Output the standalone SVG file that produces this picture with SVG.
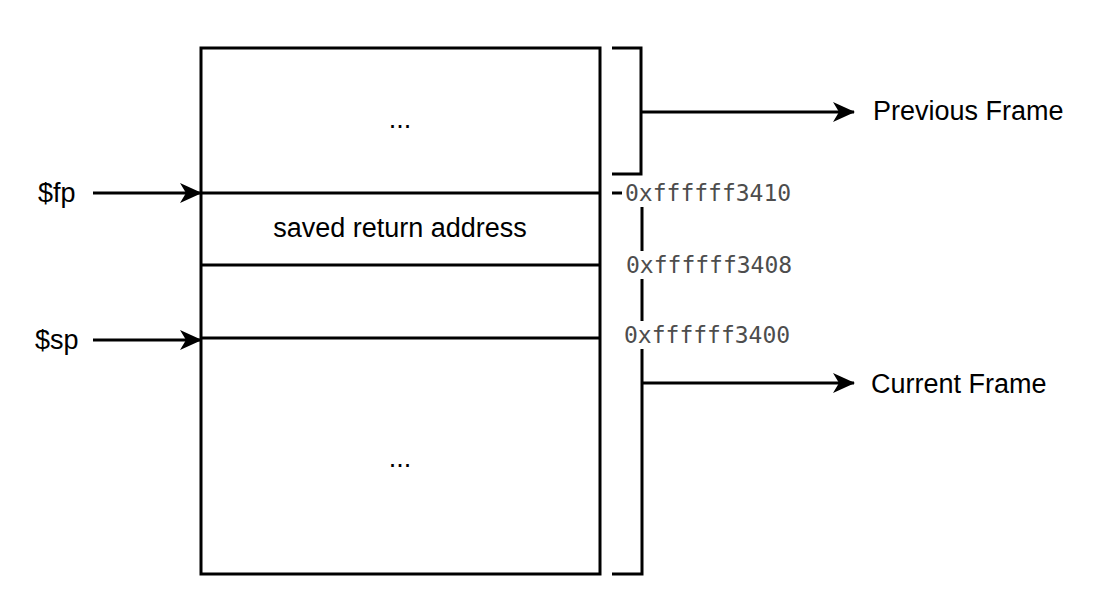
<svg xmlns="http://www.w3.org/2000/svg" width="1094" height="601" viewBox="0 0 1094 601">
<style>
.ln{fill:none;stroke:#000;stroke-width:3}
.t{font-family:"Liberation Sans",Arial,sans-serif;font-size:27px;fill:#000}
.m{font-family:"DejaVu Sans Mono",monospace;font-size:23px;fill:#4d4d4d}
</style>
<defs>
<marker id="ah" viewBox="0 0 22 22" refX="21" refY="11" markerWidth="22" markerHeight="22" markerUnits="userSpaceOnUse" orient="auto">
<path d="M0,1 L22,11 L0,21 L6,11 Z" fill="#000"/>
</marker>
</defs>
<rect width="1094" height="601" fill="#fff"/>
<g id="stack">
<rect class="ln" x="201" y="48" width="399" height="526"/>
<line class="ln" x1="201" y1="193" x2="600" y2="193"/>
<line class="ln" x1="201" y1="265" x2="600" y2="265"/>
<line class="ln" x1="201" y1="338" x2="600" y2="338"/>
<text class="t" x="400" y="128" text-anchor="middle">...</text>
<text class="t" x="400" y="237" text-anchor="middle">saved return address</text>
<text class="t" x="400" y="467" text-anchor="middle">...</text>
</g>
<g id="prev-bracket">
<path class="ln" d="M612,48 H641 V174 H612"/>
</g>
<g id="cur-bracket">
<path class="ln" d="M612,193 H642 V574 H612"/>
</g>
<g id="addr">
<rect x="622" y="180" width="174" height="27" fill="#fff"/>
<rect x="622" y="251" width="174" height="28" fill="#fff"/>
<rect x="620" y="321" width="176" height="28" fill="#fff"/>
<text class="m" x="625" y="201">0xffffff3410</text>
<text class="m" x="626" y="273">0xffffff3408</text>
<text class="m" x="624" y="343">0xffffff3400</text>
</g>
<g id="labels">
<text class="t" x="38" y="202">$fp</text>
<text class="t" x="35" y="349">$sp</text>
<text class="t" x="873" y="120">Previous Frame</text>
<text class="t" x="871" y="393">Current Frame</text>
</g>
<g id="connectors">
<line class="ln" x1="93" y1="193" x2="201" y2="193" marker-end="url(#ah)"/>
<line class="ln" x1="93" y1="340" x2="201" y2="340" marker-end="url(#ah)"/>
<line class="ln" x1="641" y1="112" x2="854" y2="112" marker-end="url(#ah)"/>
<line class="ln" x1="642" y1="383" x2="854" y2="383" marker-end="url(#ah)"/>
</g>
</svg>
